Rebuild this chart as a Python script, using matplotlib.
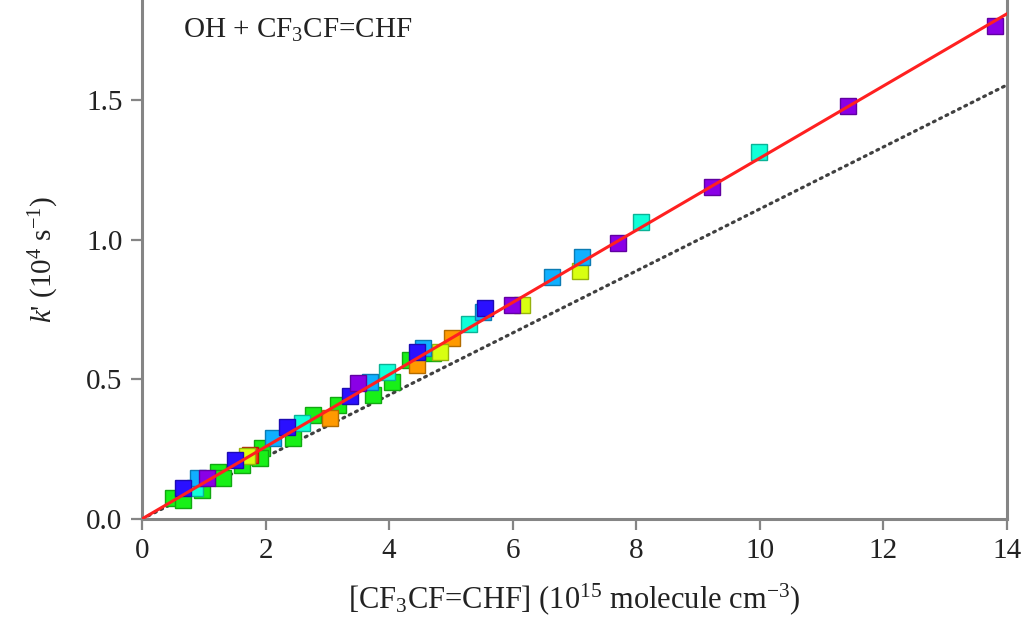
import matplotlib

matplotlib.use("Agg")

import matplotlib.pyplot as plt
import numpy as np
from matplotlib.colors import to_rgb

plt.rcParams["font.family"] = ["Liberation Serif", "DejaVu Serif"]
plt.rcParams["mathtext.fontset"] = "custom"
plt.rcParams["mathtext.rm"] = "Liberation Serif"
plt.rcParams["mathtext.it"] = "Liberation Serif:italic"

# k' vs. reactant concentration, one colour per experiment set
SERIES = {
    "purple": {
        "color": "#8a00e6",
        "x": [13.80, 11.42, 9.22, 7.70, 5.99, 3.50, 1.05],
        "y": [1.765, 1.479, 1.189, 0.988, 0.766, 0.487, 0.147],
    },
    "blue": {
        "color": "#2a10ff",
        "x": [5.55, 4.45, 3.37, 2.35, 1.50, 0.66],
        "y": [0.755, 0.598, 0.440, 0.330, 0.211, 0.111],
    },
    "sky": {
        "color": "#10b0ff",
        "x": [7.12, 6.63, 5.52, 4.55, 3.69, 2.12, 0.91],
        "y": [0.938, 0.866, 0.740, 0.612, 0.490, 0.290, 0.147],
    },
    "cyan": {
        "color": "#10ffd8",
        "x": [9.98, 8.07, 5.29, 3.96, 2.59, 0.86],
        "y": [1.314, 1.063, 0.698, 0.526, 0.344, 0.111],
    },
    "green": {
        "color": "#18f018",
        "x": [4.71, 4.34, 4.05, 3.74, 3.17, 2.77, 2.44, 1.94, 1.91, 1.62,
              1.23, 1.31, 0.50, 0.66, 0.97],
        "y": [0.594, 0.569, 0.490, 0.444, 0.408, 0.372, 0.290, 0.254, 0.218,
              0.193, 0.168, 0.147, 0.075, 0.068, 0.104],
    },
    "yellow": {
        "color": "#d8ff10",
        "x": [7.09, 6.15, 4.82, 1.70],
        "y": [0.888, 0.766, 0.598, 0.225],
    },
    "orange": {
        "color": "#ff9a00",
        "x": [5.02, 4.45, 3.04],
        "y": [0.648, 0.551, 0.362],
    },
    "red": {
        "color": "#ff2a10",
        "x": [1.75],
        "y": [0.229],
    },
}
DRAW_ORDER = ["green", "orange", "red", "yellow", "cyan", "sky", "blue", "purple"]

FIT_SLOPE = 0.1292     # red line, 10^4 s^-1 per 10^15 molecule cm^-3
REF_SLOPE = 0.1110     # dotted reference line
X_TICKS = [0, 2, 4, 6, 8, 10, 12, 14]
Y_TICKS = [0.0, 0.5, 1.0, 1.5]


def darker(color, factor=0.7):
    r, g, b = to_rgb(color)
    return (r * factor, g * factor, b * factor)


fig = plt.figure(figsize=(10.28, 6.19), dpi=100)
ax = fig.add_axes([0.1381, 0.1616, 0.8415, 0.8384])

line_x = np.array([0.0, 14.0])
ax.plot(line_x, REF_SLOPE * line_x, color="#404040", linestyle=(0, (0.6, 1.6)),
        linewidth=2.3, dash_capstyle="round", zorder=1)

for name in DRAW_ORDER:
    s = SERIES[name]
    ax.plot(s["x"], s["y"], linestyle="none", marker="s", markersize=11.5,
            markerfacecolor=s["color"], markeredgecolor=darker(s["color"]),
            markeredgewidth=1.0, zorder=2)

ax.plot(line_x, FIT_SLOPE * line_x, color="#ff2020", linewidth=2.2, zorder=3)

ax.set_xlim(0, 14)
ax.set_ylim(0, 1.858)
ax.set_xticks(X_TICKS)
ax.set_xticklabels([str(t) for t in X_TICKS])
ax.set_yticks(Y_TICKS)
ax.set_yticklabels([f"{t:.1f}" for t in Y_TICKS])

ax.spines["top"].set_visible(False)
for side in ("left", "bottom", "right"):
    ax.spines[side].set_color("#858585")
    ax.spines[side].set_linewidth(2.2)
ax.tick_params(direction="out", length=8, width=1.6, color="#858585",
               labelsize=21, labelcolor="#222222", pad=6)

ax.set_xlabel(r"[CF$_3$CF=CHF] (10$^{15}$ molecule cm$^{-3}$)",
              fontsize=22, color="#222222", labelpad=12)
ax.set_ylabel(r"$k$' (10$^4$ s$^{-1}$)", fontsize=21, color="#222222",
              labelpad=18)

ax.text(0.047, 0.942, r"OH + CF$_3$CF=CHF", transform=ax.transAxes,
        fontsize=21, color="#222222", ha="left", va="center")

fig.savefig("out.png", dpi=100, facecolor="white")
